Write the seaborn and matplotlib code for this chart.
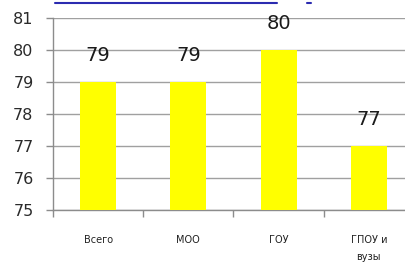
import matplotlib
matplotlib.use("Agg")
import matplotlib.pyplot as plt
import seaborn as sns
import pandas as pd
from matplotlib.lines import Line2D

categories = ["Всего", "МОО", "ГОУ", "ГПОУ и\nвузы"]
values = [79, 79, 80, 77]
y_ticks = [75, 76, 77, 78, 79, 80, 81]

df = pd.DataFrame({"cat": categories, "val": values})

sns.set_style("white")
plt.rcParams["font.family"] = ["DejaVu Sans"]

fig = plt.figure(figsize=(4.06, 2.63), dpi=100)
ax = fig.add_axes([53 / 406, 53 / 263, 361 / 406, 192 / 263])

sns.barplot(data=df, x="cat", y="val", color="#FFFF00", saturation=1,
            width=0.4, linewidth=0, ax=ax, zorder=3)

ax.set_ylim(75, 81)
ax.set_xlim(-0.5, 3.5)
ax.set_yticks(y_ticks)
ax.yaxis.grid(True, color="#a0a0a0", linewidth=1, zorder=0)
ax.set_axisbelow(True)

for s in ["top", "right"]:
    ax.spines[s].set_visible(False)
for s in ["left", "bottom"]:
    ax.spines[s].set_color("#8c8c8c")
    ax.spines[s].set_linewidth(1)

ax.tick_params(axis="y", left=True, length=5, width=1, color="#8c8c8c",
               labelsize=11.5, labelcolor="#2a2a2a", pad=9)
ax.tick_params(axis="x", which="major", bottom=False, length=0, labelsize=7,
               labelcolor="#222222", pad=18)
ax.set_xticks([-0.5, 0.5, 1.5, 2.5], minor=True)
ax.tick_params(axis="x", which="minor", bottom=True, length=5, width=1,
               color="#8c8c8c")
for lbl in ax.get_xticklabels():
    lbl.set_linespacing(1.9)
ax.set_xlabel("")
ax.set_ylabel("")

ax.bar_label(ax.containers[0], fmt="%d", padding=12, fontsize=14,
             color="#1a1a1a")

# cropped hyperlink underline at the very top
fig.add_artist(Line2D([55 / 406, 277 / 406], [1 - 3 / 263, 1 - 3 / 263],
                      color="#2b2bb0", linewidth=1.5))
fig.add_artist(Line2D([307 / 406, 311 / 406], [1 - 3 / 263, 1 - 3 / 263],
                      color="#2b2bb0", linewidth=1.5))

fig.savefig("out.png", dpi=100)
